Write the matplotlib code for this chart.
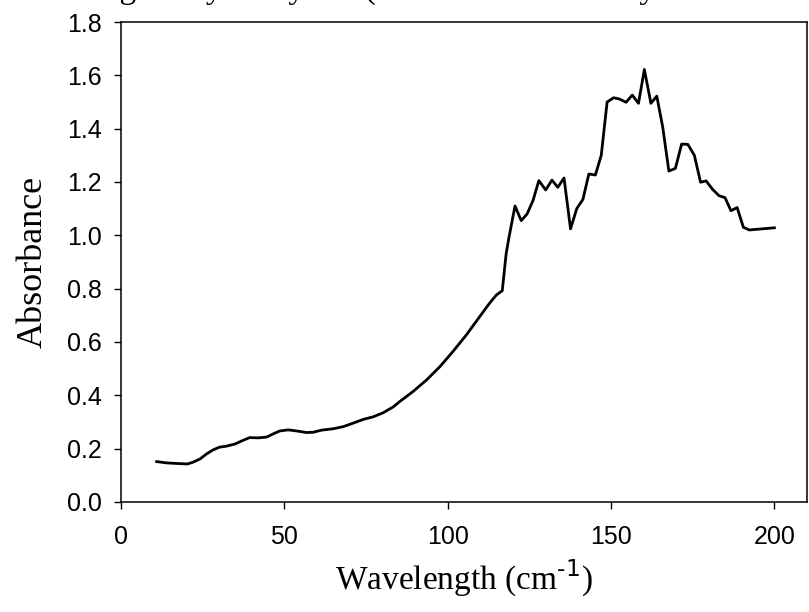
import matplotlib
matplotlib.use("Agg")
import matplotlib.pyplot as plt

# wavenumber (cm^-1) and absorbance
wavelength = [10.9, 14.0, 17.0, 20.3, 22.1, 24.2, 26.2, 28.2, 30.1, 32.3,
              34.9, 37.2, 39.4, 42.0, 44.6, 46.6, 48.6, 51.2, 53.7, 56.8,
              58.8, 61.4, 64.9, 68.0, 71.0, 74.1, 77.2, 80.2, 83.3, 85.3,
              89.4, 93.5, 97.6, 101.6, 105.7, 109.8, 112.8, 114.9, 116.7, 117.9,
              118.8, 120.6, 122.5, 124.3, 126.1, 127.9, 130.0, 131.9, 133.7, 135.6,
              137.6, 139.5, 141.4, 143.2, 145.2, 147.0, 148.8, 150.8, 152.6, 154.6,
              156.5, 158.4, 160.2, 162.2, 164.0, 165.8, 167.7, 169.7, 171.6, 173.5,
              175.5, 177.4, 179.1, 181.1, 183.0, 184.9, 186.7, 188.6, 190.5, 192.3,
              200.0]
absorbance = [0.151, 0.146, 0.144, 0.142, 0.149, 0.161, 0.180, 0.195, 0.205, 0.209,
              0.217, 0.230, 0.241, 0.240, 0.243, 0.255, 0.266, 0.270, 0.266, 0.260,
              0.261, 0.269, 0.274, 0.282, 0.295, 0.309, 0.319, 0.334, 0.356, 0.376,
              0.414, 0.457, 0.507, 0.564, 0.626, 0.695, 0.745, 0.776, 0.792, 0.932,
              0.995, 1.110, 1.055, 1.080, 1.130, 1.205, 1.170, 1.207, 1.180, 1.215,
              1.024, 1.100, 1.135, 1.230, 1.226, 1.300, 1.500, 1.516, 1.511, 1.499,
              1.526, 1.495, 1.622, 1.495, 1.522, 1.407, 1.241, 1.251, 1.342, 1.341,
              1.300, 1.199, 1.204, 1.172, 1.149, 1.141, 1.092, 1.104, 1.030, 1.020,
              1.028]

x_ticks = [0, 50, 100, 150, 200]
y_ticks = [0.0, 0.2, 0.4, 0.6, 0.8, 1.0, 1.2, 1.4, 1.6, 1.8]

fig = plt.figure(figsize=(8.09, 6.12), dpi=100)
ax = fig.add_axes([0.1496, 0.180, 0.848, 0.784])

ax.plot(wavelength, absorbance, color="black", linewidth=2.0)

ax.set_xlim(0, 210)
ax.set_ylim(0, 1.8)
ax.set_xticks(x_ticks)
ax.set_yticks(y_ticks)
ax.set_yticklabels([f"{v:.1f}" for v in y_ticks])
ax.tick_params(direction="out", length=5, width=1, labelsize=18,
               top=False, right=False)
ax.tick_params(axis="y", pad=9)
ax.tick_params(axis="x", pad=12)
for lbl in ax.get_xticklabels() + ax.get_yticklabels():
    lbl.set_family("Liberation Sans")
for sp in ax.spines.values():
    sp.set_linewidth(1.1)

ax.set_xlabel("Wavelength (cm$^{\\text{-1}}$)", family="Liberation Serif",
              fontsize=24, labelpad=6)
ax.set_ylabel("Absorbance", family="Liberation Serif", fontsize=26, labelpad=12)

# NOTE: the reference title is cut off at the top edge and cannot be read;
# only its descenders show. These words are a PLACEHOLDER chosen so the
# descenders land in roughly the same spots - replace with the real title.
fig.text(0.0, 1 + 2 / 612, "THz Drug Study Daily Set (Terahertz Use in Dry Tissue Model Research)",
         family="Liberation Serif", fontsize=24, va="baseline", ha="left")

fig.savefig("out.png", dpi=100)
